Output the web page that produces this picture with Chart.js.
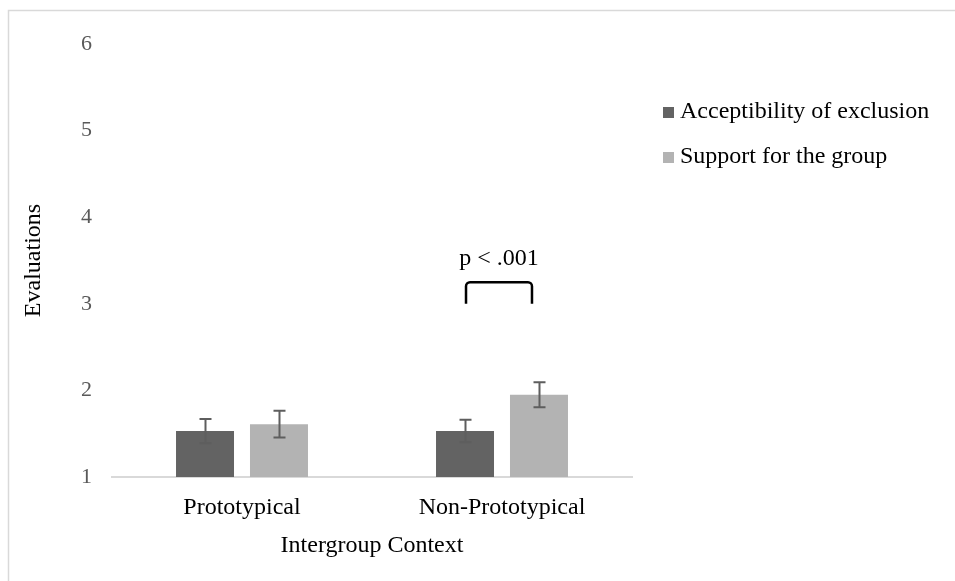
<!DOCTYPE html>
<html>
<head>
<meta charset="utf-8">
<script src="https://cdn.jsdelivr.net/npm/chart.js@4"></script>
<style>
  html, body { margin: 0; padding: 0; background: #fff; }
  #wrap { width: 955px; height: 581px; }
</style>
</head>
<body>
<div id="wrap"><canvas id="chart" width="955" height="581"></canvas></div>
<script>
// DATA
const categories = ['Prototypical', 'Non-Prototypical'];
const seriesNames = ['Acceptibility of exclusion', 'Support for the group'];
const acceptability = [1.53, 1.53];
const acceptabilityErr = [0.14, 0.13];
const support = [1.61, 1.95];
const supportErr = [0.155, 0.145];
const yMin = 1, yMax = 6, yStep = 1;
const sigText = 'p < .001';
const sigCategory = 1;      // bracket over Non-Prototypical
const sigBracket = [3.0, 3.25]; // leg bottom, bracket top (axis units)
const sigLabelY = 3.52;

const FONT = "'Liberation Serif', 'Times New Roman', serif";
const colors = ['#636363', '#b3b3b3'];

// error bars, significance bracket, legend, frame
const extras = {
  id: 'extras',
  beforeDraw(chart) {
    const ctx = chart.ctx;
    ctx.save();
    ctx.strokeStyle = '#d9d9d9';
    ctx.lineWidth = 1.5;
    ctx.beginPath();
    ctx.moveTo(8.5, 581);
    ctx.lineTo(8.5, 10.5);
    ctx.lineTo(955, 10.5);
    ctx.stroke();
    ctx.restore();
  },
  afterDatasetsDraw(chart) {
    const ctx = chart.ctx;
    const y = chart.scales.y;
    const errs = [acceptabilityErr, supportErr];
    ctx.save();
    ctx.strokeStyle = '#5e5e5e';
    ctx.lineWidth = 2;
    chart.data.datasets.forEach((ds, i) => {
      chart.getDatasetMeta(i).data.forEach((bar, j) => {
        const v = ds.data[j], e = errs[i][j];
        const top = y.getPixelForValue(v + e), bot = y.getPixelForValue(v - e);
        const x = Math.round(bar.x) + 0.5;
        ctx.beginPath();
        ctx.moveTo(x, top); ctx.lineTo(x, bot);
        ctx.moveTo(x - 6, top); ctx.lineTo(x + 6, top);
        ctx.moveTo(x - 6, bot); ctx.lineTo(x + 6, bot);
        ctx.stroke();
      });
    });

    // bracket
    const b0 = chart.getDatasetMeta(0).data[sigCategory];
    const b1 = chart.getDatasetMeta(1).data[sigCategory];
    const xl = b0.x + 1, xr = b1.x - 7;
    const yl = y.getPixelForValue(sigBracket[0]), yt = y.getPixelForValue(sigBracket[1]);
    ctx.strokeStyle = '#000';
    ctx.lineWidth = 2.5;
    ctx.lineJoin = 'round';
    ctx.beginPath();
    ctx.moveTo(xl, yl);
    ctx.arcTo(xl, yt, xr, yt, 4);
    ctx.arcTo(xr, yt, xr, yl, 4);
    ctx.lineTo(xr, yl);
    ctx.stroke();
    ctx.fillStyle = '#000';
    ctx.font = '24px ' + FONT;
    ctx.textAlign = 'center';
    ctx.textBaseline = 'middle';
    ctx.fillText(sigText, (xl + xr) / 2, y.getPixelForValue(sigLabelY));

    // legend
    ctx.textAlign = 'left';
    chart.data.datasets.forEach((ds, i) => {
      const cy = 112 + i * 45;
      ctx.fillStyle = ds.backgroundColor;
      ctx.fillRect(663, cy - 5, 11, 11);
      ctx.fillStyle = '#000';
      ctx.fillText(ds.label, 680, cy);
    });
    ctx.restore();
  }
};

new Chart(document.getElementById('chart'), {
  type: 'bar',
  data: {
    labels: categories,
    datasets: [
      { label: seriesNames[0], data: acceptability, backgroundColor: colors[0] },
      { label: seriesNames[1], data: support, backgroundColor: colors[1] }
    ]
  },
  options: {
    responsive: false,
    animation: false,
    categoryPercentage: 0.569,
    barPercentage: 0.784,
    layout: { padding: { top: 44, right: 323, left: 0, bottom: 0 } },
    plugins: { legend: { display: false }, tooltip: { enabled: false } },
    scales: {
      x: {
        grid: { display: false, drawTicks: false },
        border: { display: true, color: '#d9d9d9', width: 2 },
        ticks: { color: '#000', font: { family: FONT, size: 24 }, padding: 16 },
        title: { display: true, text: 'Intergroup Context', color: '#000',
                 font: { family: FONT, size: 24 }, padding: { top: 0, bottom: 21 } },
        afterFit(s) { s.height = 104; }
      },
      y: {
        min: yMin, max: yMax,
        grid: { display: false, drawTicks: false },
        border: { display: false },
        ticks: { stepSize: yStep, color: '#595959', font: { family: FONT, size: 22 }, padding: 20 },
        title: { display: true, text: 'Evaluations', color: '#000',
                 font: { family: FONT, size: 24 }, padding: { top: 19, bottom: 0 } },
        afterFit(s) { s.width = 112; }
      }
    }
  },
  plugins: [extras]
});
</script>
</body>
</html>
